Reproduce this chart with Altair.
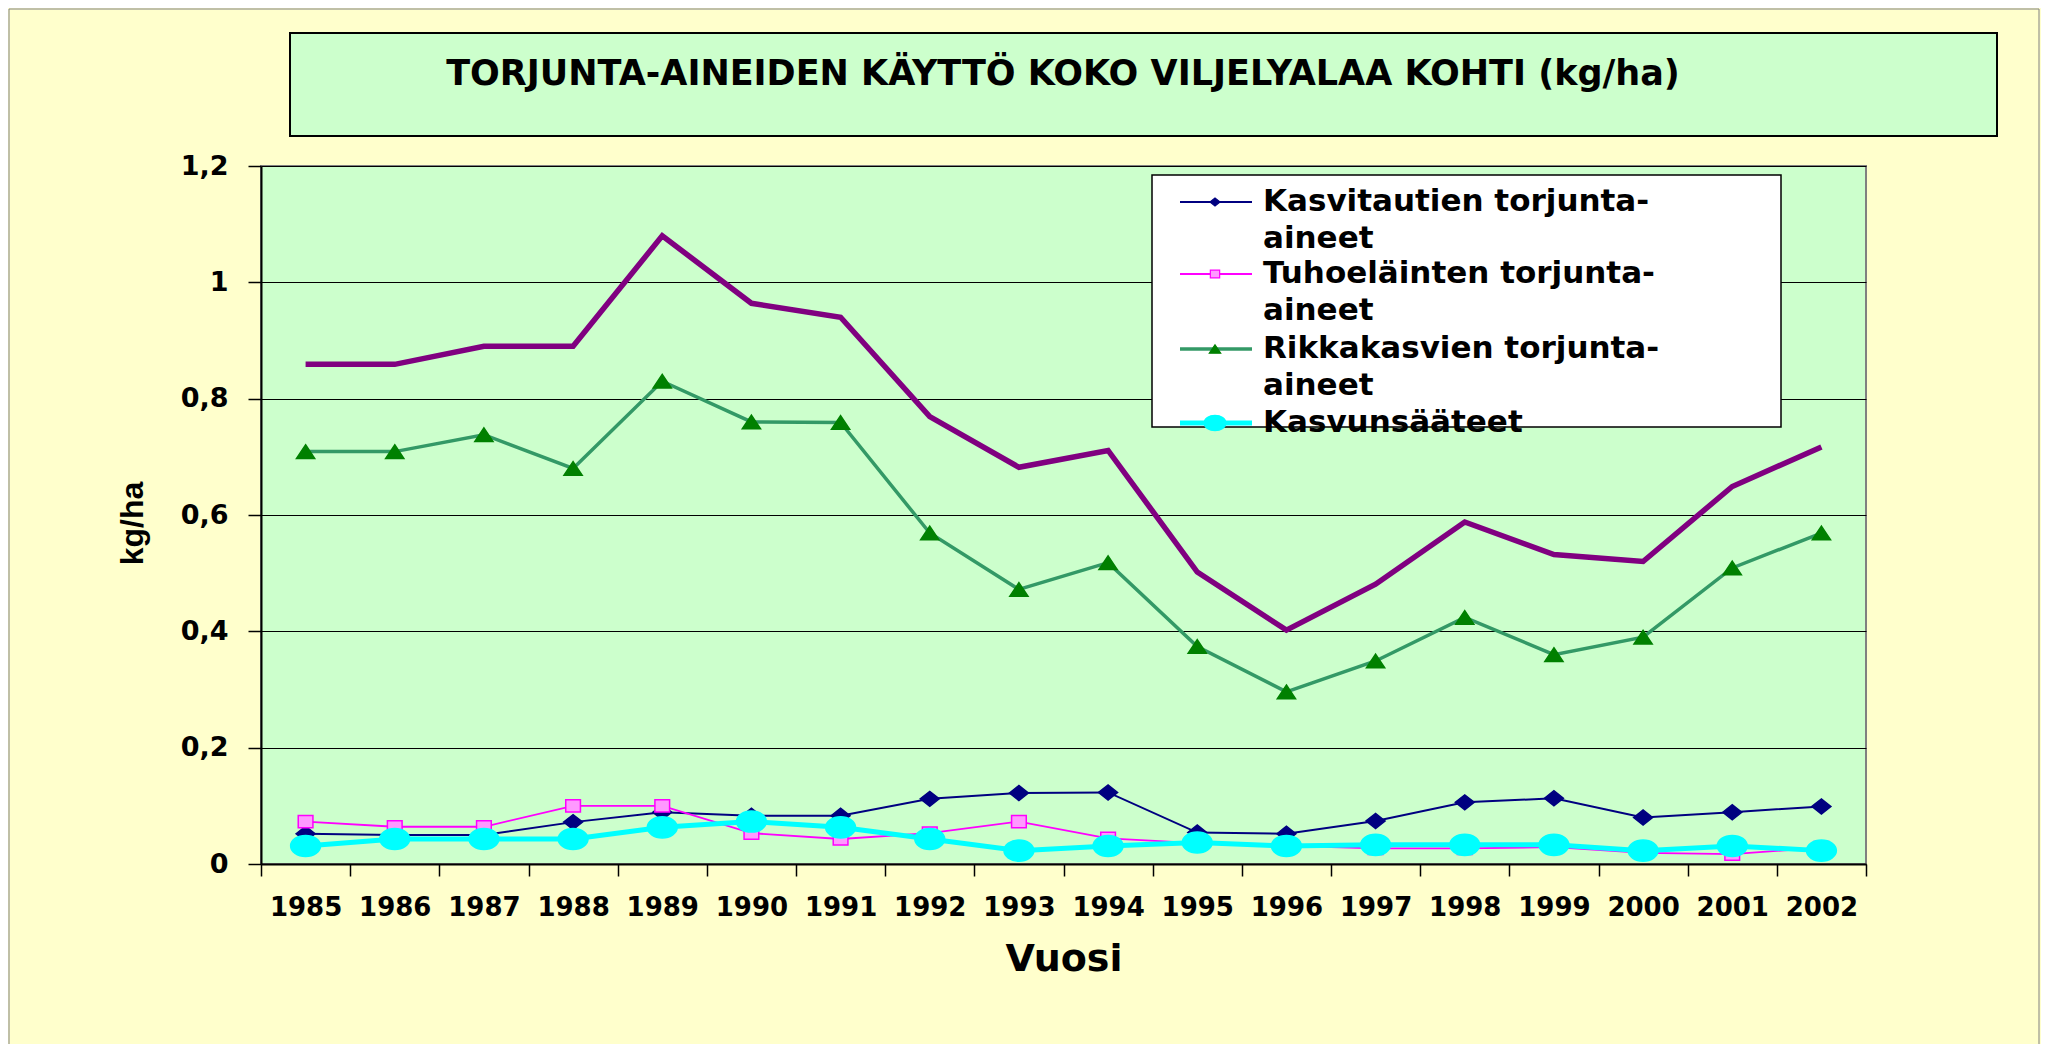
import altair as alt
import pandas as pd

# ---------------- data ----------------
years = ["1985", "1986", "1987", "1988", "1989", "1990", "1991", "1992", "1993",
         "1994", "1995", "1996", "1997", "1998", "1999", "2000", "2001", "2002"]

total = [0.859, 0.859, 0.890, 0.890, 1.080, 0.964, 0.940, 0.769, 0.682,
         0.711, 0.502, 0.402, 0.481, 0.588, 0.532, 0.520, 0.649, 0.717]
fungicides = [0.052, 0.050, 0.050, 0.072, 0.089, 0.083, 0.083, 0.112, 0.122,
              0.123, 0.054, 0.052, 0.074, 0.106, 0.113, 0.080, 0.089, 0.099]
insecticides = [0.073, 0.064, 0.064, 0.100, 0.100, 0.053, 0.043, 0.053, 0.073,
                0.044, 0.036, 0.031, 0.027, 0.027, 0.029, 0.019, 0.017, 0.028]
herbicides = [0.709, 0.709, 0.738, 0.680, 0.830, 0.760, 0.759, 0.569, 0.472,
              0.518, 0.374, 0.296, 0.349, 0.424, 0.360, 0.390, 0.509, 0.569]
growth = [0.031, 0.043, 0.043, 0.043, 0.063, 0.073, 0.063, 0.043, 0.023,
          0.031, 0.037, 0.031, 0.033, 0.033, 0.033, 0.023, 0.031, 0.023]

series_names = ["Yhteensä", "Kasvitautien torjunta-aineet", "Tuhoeläinten torjunta-aineet",
                "Rikkakasvien torjunta-aineet", "Kasvunsääteet"]
series_values = [total, fungicides, insecticides, herbicides, growth]
legend_names = series_names[1:]

y_ticks = [0, 0.2, 0.4, 0.6, 0.8, 1.0, 1.2]
title_text = "TORJUNTA-AINEIDEN KÄYTTÖ KOKO VILJELYALAA KOHTI (kg/ha)"
x_title = "Vuosi"
y_title = "kg/ha"

# ---------------- styles ----------------
DIAMOND = "M-1.2,0L0,-0.95L1.2,0L0,0.95Z"
SQUARE = "M-1.2,-1L1.2,-1L1.2,1L-1.2,1Z"
TRIANGLE = "M0,-0.9L1.2,0.9L-1.2,0.9Z"
ELLIPSE = ("M-1.2,0C-1.2,-0.47 -0.663,-0.85 0,-0.85C0.663,-0.85 1.2,-0.47 1.2,0"
           "C1.2,0.47 0.663,0.85 0,0.85C-0.663,0.85 -1.2,0.47 -1.2,0Z")

styles = {
    "Yhteensä": dict(color="#800080", width=5.5, shape=None),
    "Kasvitautien torjunta-aineet": dict(color="#000080", width=2, shape=DIAMOND,
                                         fill="#000080", stroke="#000080", size=250, lsize=70),
    "Tuhoeläinten torjunta-aineet": dict(color="#FF00FF", width=1.8, shape=SQUARE,
                                         fill="#FF99FF", stroke="#FF00FF", size=150, lsize=60),
    "Rikkakasvien torjunta-aineet": dict(color="#339966", width=3.5, shape=TRIANGLE,
                                         fill="#008000", stroke="#008000", size=230, lsize=90),
    "Kasvunsääteet": dict(color="#00FFFF", width=5, shape=ELLIPSE,
                          fill="#00FFFF", stroke="#00FFFF", size=620, lsize=330),
}

W, H = 1605, 698
BOLD = "DejaVu Sans"

x_enc = alt.X(
    "year:O", sort=years, bandPosition=0.5,
    scale=alt.Scale(type="band", paddingInner=0, paddingOuter=0),
    axis=alt.Axis(
        title=x_title, titleFont=BOLD, titleFontSize=38, titleFontWeight="bold",
        titleColor="black", titleX=W / 2, titleY=95, titleAlign="center",
        titleBaseline="middle", labelAngle=0, labelFont=BOLD, labelFontSize=26,
        labelFontWeight="bold", labelColor="black", labelPadding=18,
        tickBand="extent", tickSize=12, tickColor="black", tickWidth=1.5,
        domainColor="black", domainWidth=2, grid=False,
    ),
)
y_enc = alt.Y(
    "value:Q",
    scale=alt.Scale(domain=[0, 1.2], nice=False, zero=True),
    axis=alt.Axis(
        values=y_ticks,
        labelExpr="replace(format(datum.value, '.1~f'), '.', ',')",
        title=y_title, titleFont="Liberation Sans", titleFontSize=32,
        titleFontWeight="bold", titleColor="black", titleAngle=270,
        titleX=-129, titleY=H / 2 + 8, titleAlign="center", titleBaseline="middle",
        labelFont=BOLD, labelFontSize=27, labelFontWeight="bold", labelColor="black",
        labelPadding=20, tickSize=13, tickColor="black", tickWidth=1.5,
        domainColor="black", domainWidth=2,
        grid=True, gridColor="black", gridWidth=1,
    ),
)

one = pd.DataFrame({"k": [0]})

layers = []

# outer frame and title box
layers.append(
    alt.Chart(one).mark_rect(fillOpacity=0, stroke="#808080", strokeWidth=1).encode(
        x=alt.value(-252), x2=alt.value(1778), y=alt.value(-157), y2=alt.value(879))
)
layers.append(
    alt.Chart(one).mark_rect(fill="#CCFFCC", stroke="black", strokeWidth=2).encode(
        x=alt.value(29), x2=alt.value(1736), y=alt.value(-133), y2=alt.value(-30))
)
layers.append(
    alt.Chart(one).mark_text(font=BOLD, fontSize=35, fontWeight="bold", color="black",
                             align="center", baseline="middle").encode(
        x=alt.value(802), y=alt.value(-92), text=alt.value(title_text))
)

# data series
for name, vals in zip(series_names, series_values):
    st = styles[name]
    df = pd.DataFrame({"year": years, "value": vals, "series": name})
    base = alt.Chart(df).encode(x=x_enc, y=y_enc)
    layers.append(base.mark_line(color=st["color"], strokeWidth=st["width"]))
    if st["shape"]:
        layers.append(base.mark_point(shape=st["shape"], size=st["size"], filled=True,
                                      fill=st["fill"], stroke=st["stroke"], strokeWidth=1.5,
                                      opacity=1))

# legend
layers.append(
    alt.Chart(one).mark_rect(fill="white", stroke="black", strokeWidth=1.5).encode(
        x=alt.value(891), x2=alt.value(1520), y=alt.value(9), y2=alt.value(261))
)
row_y = [36, 108, 183, 257]
for name, ry in zip(legend_names, row_y):
    st = styles[name]
    label = name.replace("torjunta-", "torjunta-\n")
    layers.append(
        alt.Chart(one).mark_rule(color=st["color"], strokeWidth=st["width"]).encode(
            x=alt.value(919), x2=alt.value(991), y=alt.value(ry))
    )
    layers.append(
        alt.Chart(one).mark_point(shape=st["shape"], size=st["lsize"], filled=True,
                                  fill=st["fill"], stroke=st["stroke"], strokeWidth=1.2,
                                  opacity=1).encode(
            x=alt.value(954), y=alt.value(ry))
    )
    layers.append(
        alt.Chart(one).mark_text(font=BOLD, fontSize=31, fontWeight="bold", color="black",
                                 align="left", baseline="middle", lineBreak="\n",
                                 lineHeight=37).encode(
            x=alt.value(1002), y=alt.value(ry), text=alt.value(label))
    )

chart = alt.layer(*layers).properties(
    width=W, height=H,
    autosize=alt.AutoSizeParams(type="none"),
    padding={"left": 253, "top": 158, "right": 175, "bottom": 180},
).configure(background="#FFFFCC").configure_view(
    fill="#CCFFCC", stroke="#808080", strokeWidth=2
)

chart.save("out.html", embed_options={"renderer": "svg", "actions": False})
